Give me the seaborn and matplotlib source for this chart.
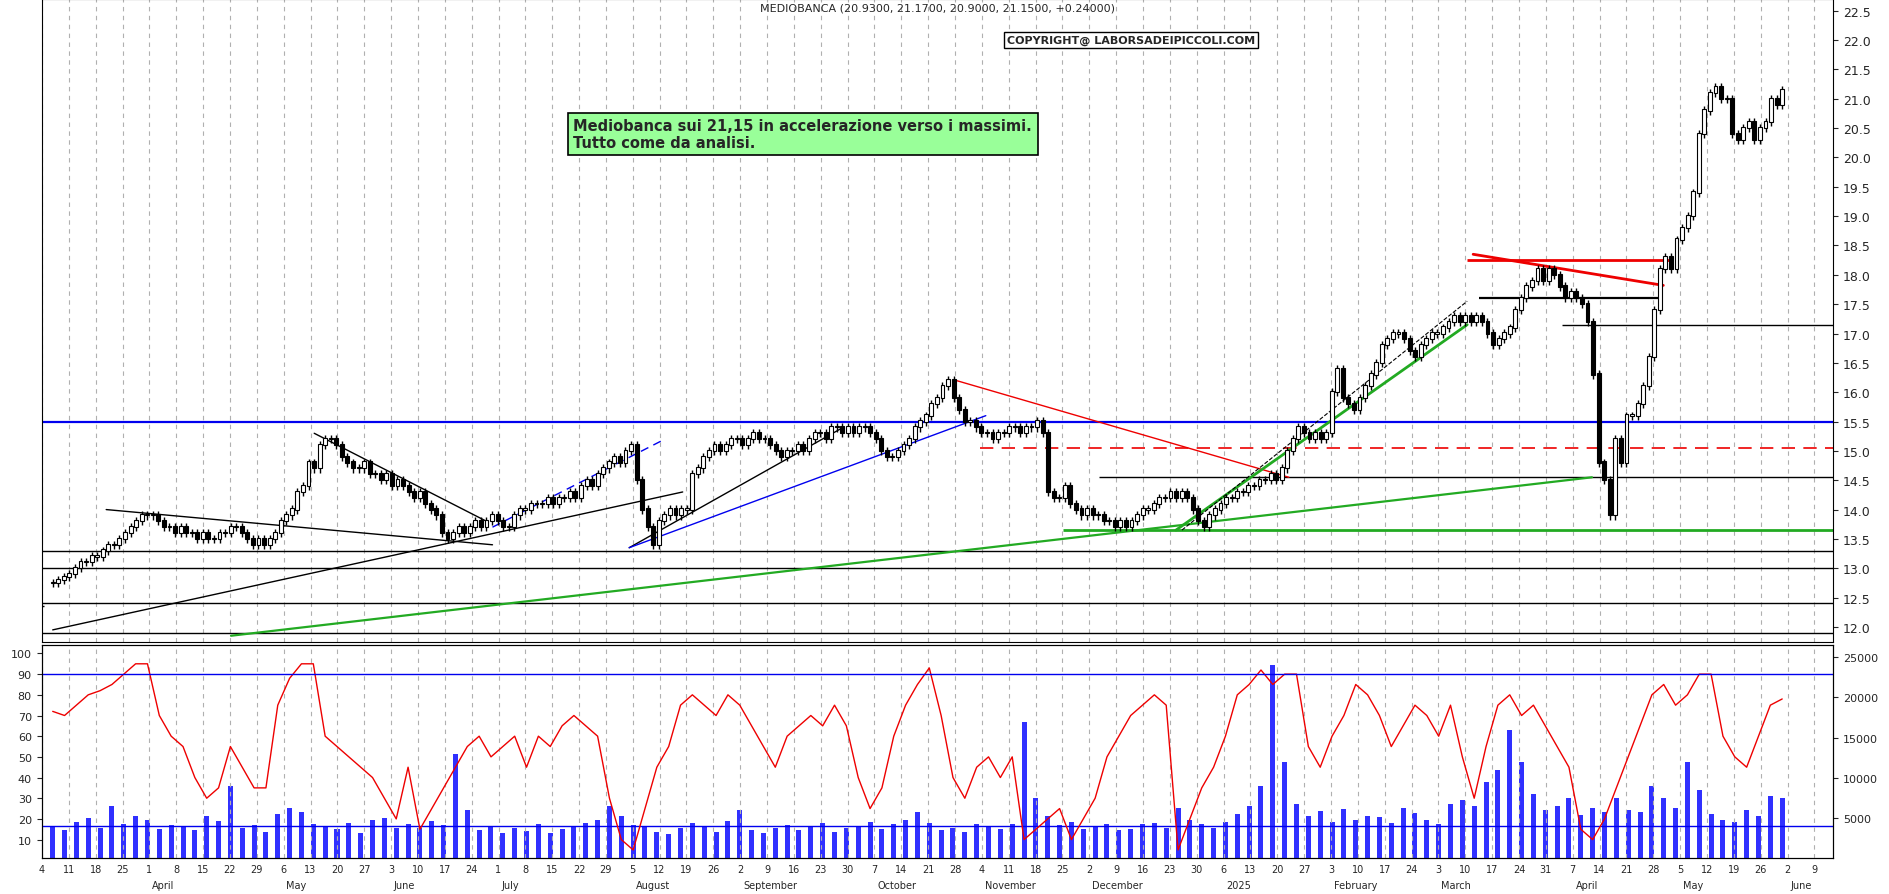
import numpy as np
import pandas as pd
import matplotlib
matplotlib.use("Agg")
import matplotlib.pyplot as plt
import seaborn as sns

sns.set_style("white")

# daily closes, Mar 2024 -> May 30 2025
closes = [12.75, 12.8, 12.85,
          12.9, 13.0, 13.1, 13.1, 13.2,
          13.2, 13.3, 13.4, 13.4, 13.5,
          13.6, 13.7, 13.8, 13.9, 13.9,
          13.9, 13.8, 13.7, 13.7, 13.6,
          13.7, 13.6, 13.6, 13.5, 13.6,
          13.5, 13.5, 13.6, 13.6, 13.7,
          13.7, 13.6, 13.5, 13.4, 13.5,
          13.4, 13.5, 13.6, 13.8, 13.9,
          14.0, 14.3, 14.4, 14.8, 14.7,
          15.1, 15.2, 15.2, 15.1, 14.9,
          14.8, 14.7, 14.7, 14.8, 14.6,
          14.6, 14.5, 14.6, 14.4, 14.5,
          14.4, 14.3, 14.2, 14.3, 14.1,
          14.0, 13.9, 13.6, 13.5, 13.6,
          13.7, 13.6, 13.7, 13.8, 13.7,
          13.8, 13.9, 13.8, 13.7, 13.7,
          13.9, 14.0, 14.0, 14.1, 14.1,
          14.1, 14.2, 14.1, 14.2, 14.2,
          14.3, 14.2, 14.4, 14.5, 14.4,
          14.6, 14.7, 14.8, 14.9, 14.8,
          15.0, 15.1, 14.5, 14.0, 13.7,
          13.4, 13.8, 13.9, 14.0, 13.9,
          14.0, 14.0, 14.6, 14.7, 14.9,
          15.0, 15.1, 15.0, 15.1, 15.2,
          15.2, 15.1, 15.2, 15.3, 15.2,
          15.2, 15.1, 15.0, 14.9, 15.0,
          15.0, 15.1, 15.0, 15.2, 15.3,
          15.3, 15.2, 15.4, 15.4, 15.3,
          15.4, 15.3, 15.4, 15.4, 15.3,
          15.2, 15.0, 14.9, 14.9, 15.0,
          15.1, 15.2, 15.4, 15.5, 15.6,
          15.8, 15.9, 16.1, 16.2, 15.9,
          15.7, 15.5, 15.5, 15.4, 15.3,
          15.3, 15.2, 15.3, 15.3, 15.4,
          15.4, 15.3, 15.4, 15.4, 15.5,
          15.3, 14.3, 14.2, 14.2, 14.4,
          14.1, 14.0, 13.9, 14.0, 13.9,
          13.9, 13.8, 13.8, 13.7, 13.8,
          13.7, 13.8, 13.9, 14.0, 14.0,
          14.1, 14.2, 14.2, 14.3, 14.2,
          14.3, 14.2, 14.0, 13.8, 13.7,
          13.9, 14.0, 14.1, 14.2, 14.2,
          14.3, 14.3, 14.4, 14.4, 14.5,
          14.5, 14.6, 14.5, 14.7, 15.0,
          15.2, 15.4, 15.3, 15.2, 15.3,
          15.2, 15.3, 16.0, 16.4, 15.9,
          15.8, 15.7, 15.9, 16.1, 16.3,
          16.5, 16.8, 16.9, 17.0, 17.0,
          16.9, 16.7, 16.6, 16.8, 16.9,
          17.0, 17.0, 17.1, 17.2, 17.3,
          17.2, 17.3, 17.2, 17.3, 17.2,
          17.0, 16.8, 16.9, 17.0, 17.1,
          17.4, 17.6, 17.8, 17.9, 18.1,
          17.9, 18.1, 18.0, 17.8, 17.6,
          17.7, 17.6, 17.5, 17.2, 16.3,
          14.8, 14.5, 13.9, 15.2, 14.8,
          15.6, 15.6, 15.8, 16.1, 16.6,
          17.4, 18.1, 18.3, 18.1, 18.6,
          18.8, 19.0, 19.4, 20.4, 20.8,
          21.1, 21.2, 21.0, 21.0, 20.4,
          20.3, 20.5, 20.6, 20.3, 20.5,
          20.6, 21.0, 20.9, 21.15]

# stochastic oscillator, one reading every 2 sessions
osc = [72, 70, 75, 80, 82, 85, 90, 95, 95, 70, 60, 55, 40, 30, 35, 55, 45, 35, 35, 75,
       88, 95, 95, 60, 55, 50, 45, 40, 30, 20, 45, 15, 25, 35, 45, 55, 60, 50, 55, 60,
       45, 60, 55, 65, 70, 65, 60, 30, 10, 5, 25, 45, 55, 75, 80, 75, 70, 80, 75, 65,
       55, 45, 60, 65, 70, 65, 75, 65, 40, 25, 35, 60, 75, 85, 93, 70, 40, 30, 45, 50,
       40, 50, 10, 15, 20, 25, 10, 20, 30, 50, 60, 70, 75, 80, 75, 5, 20, 35, 45, 60,
       80, 85, 92, 85, 90, 90, 55, 45, 60, 70, 85, 80, 70, 55, 65, 75, 70, 60, 75, 50,
       30, 55, 75, 80, 70, 75, 65, 55, 45, 15, 10, 20, 35, 50, 65, 80, 85, 75, 80, 90,
       90, 60, 50, 45, 60, 75, 78]

# volume, one bar every 2 sessions
volume = [4000, 3500, 4500, 5000, 3800, 6500, 4200, 5200, 4800, 3600, 4100, 3900, 3500, 5200, 4600, 9000, 3800, 4100, 3300, 5500,
          6200, 5800, 4200, 3900, 3600, 4400, 3100, 4800, 5000, 3700, 4200, 3800, 4600, 4100, 13000, 6000, 3500, 3900, 3100, 3700,
          3400, 4200, 3100, 3600, 3900, 4400, 4800, 6500, 5200, 4100, 3900, 3300, 3000, 3800, 4400, 3900, 3200, 4600, 6000, 3500,
          3100, 3700, 4100, 3500, 3900, 4400, 3300, 3800, 4000, 4500, 3600, 4200, 4800, 5800, 4400, 3500, 3700, 3300, 4200, 4000,
          3600, 4300, 17000, 7500, 5200, 4100, 4500, 3600, 3900, 4300, 3500, 3600, 4200, 4400, 3800, 6200, 4700, 4300, 3700, 4500,
          5500, 6500, 9000, 24000, 12000, 6800, 5200, 5900, 4500, 6100, 4800, 5300, 5100, 4400, 6200, 5600, 4700, 4200, 6800, 7200,
          6500, 9500, 11000, 16000, 12000, 8000, 6000, 6500, 7500, 5400, 6300, 5700, 7500, 6000, 5800, 9000, 7500, 6300, 12000, 8500,
          5500, 4800, 4500, 6000, 5200, 7800, 7500]

start, end = pd.Timestamp("2024-03-06"), pd.Timestamp("2025-05-30")
N = len(closes)
xi = np.arange(N)
opens = np.r_[closes[0], closes[:-1]]
cl = np.array(closes)
up = cl >= opens
lo_body = np.minimum(opens, cl)
hi_body = np.maximum(opens, cl)
span = 1455.0 / (N - 1)
nbd = np.busday_count(start.date(), end.date())


def px(x):
    # chart pixel (reference, 1580 px wide) -> session index
    return (x - 35) / span


def date_pos(d):
    return np.busday_count(start.date(), d.date()) / nbd * (N - 1)


fig = plt.figure(figsize=(18.9, 8.95), dpi=100)
ax = fig.add_axes([0.022, 0.282, 0.948, 0.718])
ax2 = fig.add_axes([0.022, 0.04, 0.948, 0.238])

week_days = pd.date_range("2024-03-04", "2025-06-09", freq="W-MON")
tick_pos = [date_pos(d) for d in week_days]
for a in (ax, ax2):
    for m in tick_pos:
        a.axvline(m, color="#b0b0b0", ls=(0, (4, 4)), lw=0.8, zorder=0)
    a.set_xlim(-2, px(1533))

# price candles
ax.vlines(xi, lo_body - 0.07, hi_body + 0.07, color="black", lw=1, zorder=3)
ax.bar(xi[up], (hi_body - lo_body)[up] + 0.02, bottom=lo_body[up], width=0.7,
       color="white", edgecolor="black", lw=0.8, zorder=4)
ax.bar(xi[~up], (hi_body - lo_body)[~up] + 0.02, bottom=lo_body[~up], width=0.7,
       color="black", edgecolor="black", lw=0.8, zorder=4)

# support / resistance
ax.axhline(15.5, color="#0000ee", lw=1.6)
for lvl in (13.3, 13.0, 12.4, 11.9):
    ax.axhline(lvl, color="black", lw=1)
ax.hlines(15.05, px(815), px(1533), color="#ee0000", ls=(0, (8, 5)), lw=1.2)
ax.hlines(14.55, px(915), px(1533), color="black", lw=1)
ax.hlines(13.65, px(885), px(1533), color="#22aa22", lw=2)
ax.hlines(17.15, px(1305), px(1533), color="black", lw=1)
ax.hlines(17.6, px(1235), px(1390), color="black", lw=1.6)
ax.hlines(18.25, px(1225), px(1395), color="#ee0000", lw=2)
ax.hlines(12.35, px(0), px(28), color="black", lw=1)
lines = [((1230, 18.35), (1390, 17.82), "#ee0000", 2),
         ((795, 16.2), (1075, 14.55), "#ee0000", 1),
         ((980, 13.65), (1225, 17.15), "#22aa22", 2),
         ((185, 11.85), (1330, 14.55), "#22aa22", 1.6),
         ((35, 11.95), (565, 14.3), "black", 1),
         ((520, 13.35), (700, 15.4), "black", 1),
         ((520, 13.35), (820, 15.6), "#0000ee", 1),
         ((80, 14.0), (405, 13.4), "black", 1),
         ((255, 15.3), (400, 13.8), "black", 1),
         ((985, 13.65), (1225, 17.55), "black", 0.8)]
for (x0, y0), (x1, y1), c, w in lines:
    ax.plot([px(x0), px(x1)], [y0, y1], color=c, lw=w, ls="--" if w == 0.8 else "-")
ax.plot([px(405), px(550)], [13.7, 15.2], color="#0000ee", lw=1, ls=(0, (6, 4)))

ax.set_ylim(11.75, 22.7)
ax.yaxis.tick_right()
ax.set_yticks(np.arange(12, 22.51, 0.5))
ax.set_yticklabels([f"{v:.1f}" for v in np.arange(12, 22.51, 0.5)], fontsize=9)
ax.set_xticks([])
ax.text(0.5, 0.995, "MEDIOBANCA (20.9300, 21.1700, 20.9000, 21.1500, +0.24000)",
        transform=ax.transAxes, ha="center", va="top", fontsize=8)
ax.text(px(838), 22.0, "COPYRIGHT@ LABORSADEIPICCOLI.COM", fontsize=8, fontweight="bold",
        va="center", bbox=dict(facecolor="white", edgecolor="black", lw=1, pad=2))
ax.text(px(473), 20.4, "Mediobanca sui 21,15 in accelerazione verso i massimi.\nTutto come da analisi.",
        fontsize=10.5, fontweight="bold", va="center", linespacing=1.1,
        bbox=dict(facecolor="#99ff99", edgecolor="black", lw=1.2, pad=4))

# lower panel: volume + oscillator
axv = ax2.twinx()
xo = np.arange(len(osc)) * (N - 1) / (len(osc) - 1)
xv = np.arange(len(volume)) * (N - 1) / (len(volume) - 1)
axv.bar(xv, volume, width=0.9, color="#3030ff", lw=0)
axv.axhline(4000, color="#0000ee", lw=1)
axv.set_ylim(0, 26500)
axv.set_yticks([5000, 10000, 15000, 20000, 25000])
axv.tick_params(labelsize=8)
sns.lineplot(x=xo, y=osc, ax=ax2, color="#ee0000", lw=1)
ax2.axhline(90, color="#0000ee", lw=1)
ax2.set_ylim(1, 104)
ax2.set_yticks(range(10, 101, 10))
ax2.tick_params(axis="y", labelsize=8)
ax2.set_zorder(axv.get_zorder() + 1)
ax2.patch.set_visible(False)
ax2.set_xticks(tick_pos)
ax2.set_xticklabels([str(d.day) for d in week_days], fontsize=7)
ax2.tick_params(axis="x", pad=1, length=3)
prev = week_days[0].month
for d, m in zip(week_days, tick_pos):
    if d.month != prev:
        name = "2025" if d.month == 1 else d.strftime("%B")
        ax2.text(m + 0.5, -0.1, name, transform=ax2.get_xaxis_transform(),
                 fontsize=7, va="top")
        prev = d.month
for a in (ax, ax2, axv):
    for s in a.spines.values():
        s.set_color("black")

fig.savefig("out.png", dpi=100)
